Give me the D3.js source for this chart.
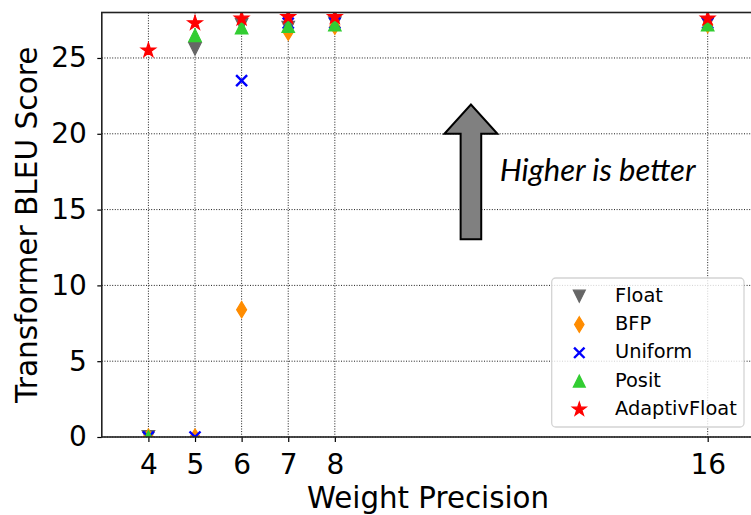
<!DOCTYPE html>
<html>
<head>
<meta charset="utf-8">
<script src="https://cdn.jsdelivr.net/npm/d3@7"></script>
<style>
  html, body { margin: 0; padding: 0; background: #fff; }
  svg { display: block; }
</style>
</head>
<body>
<svg id="chart" width="751" height="515"></svg>
<script>
// ---- data ----
const precisions = [4, 5, 6, 7, 8, 16];
const floatScores    = [0, 25.6, 27.2, 27.0, 27.3, 27.3];
const bfpScores      = [0, 0, 8.4, 26.7, 27.1, 27.2];
const uniformScores  = [0, 0, 23.5, 27.3, 27.3, 27.3];
const positScores    = [0, 26.5, 27.0, 27.1, 27.2, 27.2];
const adaptivScores  = [25.5, 27.3, 27.6, 27.7, 27.7, 27.6];
const seriesNames = ["Float", "BFP", "Uniform", "Posit", "AdaptivFloat"];
const xTickValues = [4, 5, 6, 7, 8, 16];
const yTickValues = [0, 5, 10, 15, 20, 25];
const xLabel = "Weight Precision";
const yLabel = "Transformer BLEU Score";
const noteText = "Higher is better";

(function () {
// ---- styles ----
const seriesValues = [floatScores, bfpScores, uniformScores, positScores, adaptivScores];
const seriesColors = ["#666666", "#ff8c00", "#0000ff", "#32cd32", "#ff0000"];
const seriesShapes = ["triDown", "thinDiamond", "x", "triUp", "star"];

const svg = d3.select("#chart");
const pL = 101.8, pT = 12.5, pR = 754.3, pB = 437;

const x = d3.scaleLinear().domain([3, 17]).range([pL, pR]);
const y = d3.scaleLinear().domain([0, 28]).range([pB, pT]);

function markerPath(shape, k) {
  k = k || 1;
  if (shape === "triDown") { const h = 6.3 * k; return `M0,${h}L${-h},${-h}L${h},${-h}Z`; }
  if (shape === "triUp") { const h = 6.3 * k; return `M0,${-h}L${-h},${h}L${h},${h}Z`; }
  if (shape === "thinDiamond") { const a = 8.2 * k, b = 5.0 * k; return `M0,${-a}L${b},0L0,${a}L${-b},0Z`; }
  if (shape === "x") { const h = 5.5 * k; return `M${-h},${-h}L${h},${h}M${-h},${h}L${h},${-h}`; }
  if (shape === "star") {
    const R = 7.6 * k, r = R * 0.381966; let p = "";
    for (let i = 0; i < 10; i++) {
      const ang = -Math.PI / 2 + i * Math.PI / 5;
      const rad = i % 2 === 0 ? R : r;
      p += (i === 0 ? "M" : "L") + (rad * Math.cos(ang)).toFixed(2) + "," + (rad * Math.sin(ang)).toFixed(2);
    }
    return p + "Z";
  }
}
function styleMarker(sel, shape, color) {
  if (shape === "x") sel.attr("fill", "none").attr("stroke", color).attr("stroke-width", 2.4);
  else sel.attr("fill", color).attr("stroke", color).attr("stroke-width", 1.2).attr("stroke-linejoin", "miter");
}

// clip
svg.append("defs").append("clipPath").attr("id", "plotClip")
  .append("rect").attr("x", pL).attr("y", pT).attr("width", pR - pL).attr("height", pB - pT);

// grid
const grid = svg.append("g").attr("stroke", "#000").attr("stroke-width", 0.9).attr("stroke-dasharray", "1,1.6");
grid.selectAll("line.v").data(xTickValues).join("line").attr("class", "v")
  .attr("x1", d => x(d)).attr("x2", d => x(d)).attr("y1", pT).attr("y2", pB);
grid.selectAll("line.h").data(yTickValues).join("line").attr("class", "h")
  .attr("x1", pL).attr("x2", pR).attr("y1", d => y(d)).attr("y2", d => y(d));

// annotation arrow (data coords)
const arrX = 10.92, arrTail = 13.05, arrHeadBase = 20.0, arrTip = 21.93;
const sw = 10.3, hw = 26.5;
const ax = x(arrX);
svg.append("path")
  .attr("d", `M${ax - sw},${y(arrTail)}L${ax - sw},${y(arrHeadBase)}L${ax - hw},${y(arrHeadBase)}L${ax},${y(arrTip)}L${ax + hw},${y(arrHeadBase)}L${ax + sw},${y(arrHeadBase)}L${ax + sw},${y(arrTail)}Z`)
  .attr("fill", "#808080").attr("stroke", "#000").attr("stroke-width", 2).attr("stroke-linejoin", "miter");
svg.append("text").attr("x", x(11.54)).attr("y", y(16.89))
  .attr("font-family", "Lato").attr("font-style", "italic").attr("font-size", 31)
  .attr("fill", "#000").text(noteText);

// markers
const plot = svg.append("g").attr("clip-path", "url(#plotClip)");
seriesValues.forEach((vals, si) => {
  const g = plot.append("g");
  const sel = g.selectAll("path").data(precisions.map((p, i) => [p, vals[i]])).join("path")
    .attr("transform", d => `translate(${x(d[0])},${y(d[1])})`)
    .attr("d", markerPath(seriesShapes[si]));
  styleMarker(sel, seriesShapes[si], seriesColors[si]);
});

// axes
const fontFam = "DejaVu Sans, sans-serif";
const xAxis = svg.append("g").attr("transform", `translate(0,${pB})`)
  .call(d3.axisBottom(x).tickValues(xTickValues).tickFormat(d3.format("d")).tickSizeOuter(0).tickSize(5).tickPadding(12));
const yAxis = svg.append("g").attr("transform", `translate(${pL},0)`)
  .call(d3.axisLeft(y).tickValues(yTickValues).tickFormat(d3.format("d")).tickSizeOuter(0).tickSize(4.5).tickPadding(10.5));
[xAxis, yAxis].forEach(a => {
  a.select(".domain").remove();
  a.selectAll(".tick line").attr("stroke", "#000").attr("stroke-width", 1.2);
  a.selectAll(".tick text").attr("font-family", fontFam).attr("font-size", 28).attr("fill", "#000");
});

// spines
svg.append("rect").attr("x", pL).attr("y", pT).attr("width", pR - pL).attr("height", pB - pT)
  .attr("fill", "none").attr("stroke", "#222").attr("stroke-width", 1.6);

// axis labels
svg.append("text").attr("x", (pL + pR) / 2).attr("y", 508).attr("text-anchor", "middle")
  .attr("font-family", fontFam).attr("font-size", 29.3).attr("fill", "#000").text(xLabel);
svg.append("text").attr("transform", `translate(37,${(pT + pB) / 2}) rotate(-90)`).attr("text-anchor", "middle")
  .attr("font-family", fontFam).attr("font-size", 29.6).attr("fill", "#000").text(yLabel);

// legend
const lg = svg.append("g");
lg.append("rect").attr("x", 551.7).attr("y", 278).attr("width", 192.3).attr("height", 149).attr("rx", 4)
  .attr("fill", "#fff").attr("fill-opacity", 0.8).attr("stroke", "#d4d4d4").attr("stroke-width", 1.3);
seriesNames.forEach((name, i) => {
  const base = 301.7 + i * 28.3;
  const m = lg.append("path").attr("transform", `translate(579.3,${base - 5.5})`)
    .attr("d", markerPath(seriesShapes[i], 0.95));
  styleMarker(m, seriesShapes[i], seriesColors[i]);
  lg.append("text").attr("x", 615).attr("y", base).attr("font-family", fontFam).attr("font-size", 19.4)
    .attr("fill", "#000").text(name);
});
})();
</script>
</body>
</html>
